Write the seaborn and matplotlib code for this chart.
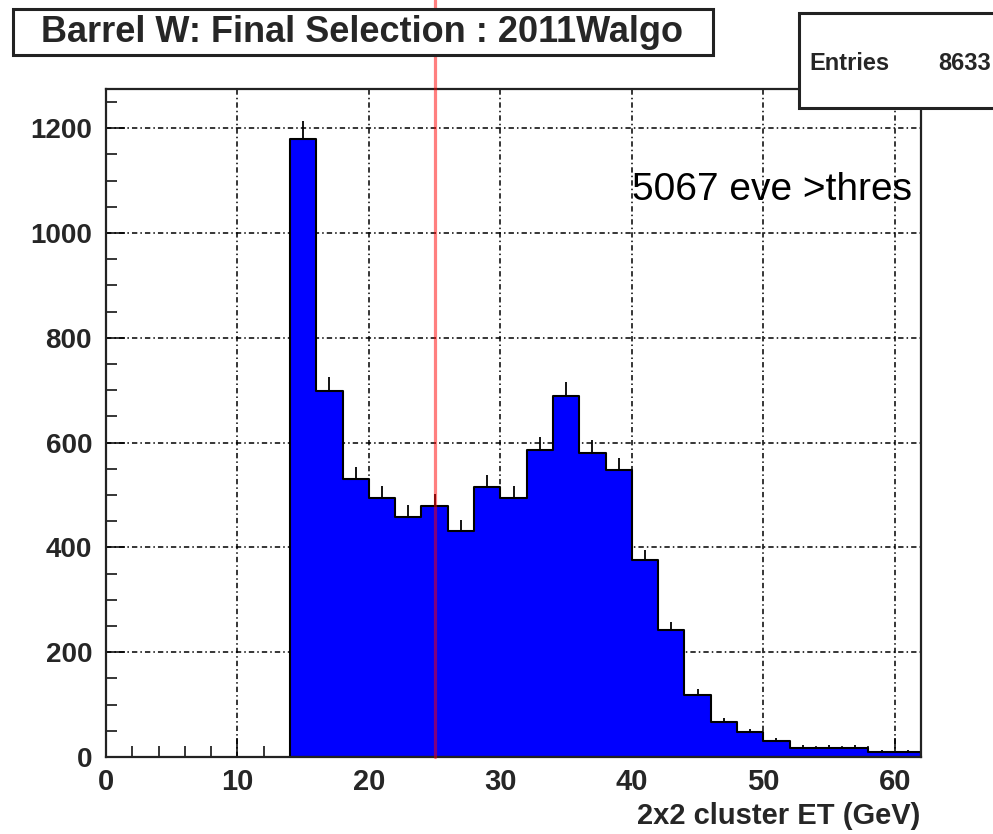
import numpy as np
import pandas as pd
import matplotlib
matplotlib.use("Agg")
import matplotlib.pyplot as plt
import seaborn as sns
from matplotlib.patches import Rectangle
from matplotlib.ticker import MultipleLocator

# Histogram of 2x2 cluster ET for the barrel W final selection (2 GeV bins)
bin_edges = [14, 16, 18, 20, 22, 24, 26, 28, 30, 32, 34, 36, 38, 40,
             42, 44, 46, 48, 50, 52, 54, 56, 58, 60, 62]
counts = [1180, 698, 530, 495, 459, 480, 431, 516, 495, 586, 689, 581,
          547, 376, 242, 118, 67, 47, 30, 18, 18, 18, 10, 10]
threshold_et = 25
entries = 8633
events_above = 5067
title_text = "Barrel W: Final Selection : 2011Walgo"
x_label = "2x2 cluster ET (GeV)"

sns.set_theme(style="white")
plt.rcParams["font.family"] = ["Liberation Sans", "DejaVu Sans"]
plt.rcParams["font.weight"] = "bold"

W, H = 993, 834
fig = plt.figure(figsize=(W / 100, H / 100), dpi=100)
fig.patch.set_facecolor("white")

ax_l, ax_r, ax_t, ax_b = 106, 921, 89, 757
ax = fig.add_axes([ax_l / W, 1 - ax_b / H, (ax_r - ax_l) / W, (ax_b - ax_t) / H])
ax.set_facecolor("white")

centers = [(a + b) / 2 for a, b in zip(bin_edges[:-1], bin_edges[1:])]
df = pd.DataFrame({"et": centers, "n": counts})

sns.histplot(data=df, x="et", weights="n", bins=bin_edges, element="step",
             fill=True, facecolor="#0000ff", edgecolor="black", linewidth=1.5,
             alpha=1, ax=ax, zorder=2)

# statistical error bars (upper half visible above the filled bars)
err = np.sqrt(np.array(counts, dtype=float))
ax.errorbar(centers, counts, yerr=[np.zeros_like(err), err], fmt="none",
            ecolor="black", elinewidth=1.3, capsize=0, zorder=3)

ax.set_xlim(0, 62)
ax.set_ylim(0, 1275)
ax.xaxis.set_major_locator(MultipleLocator(10))
ax.xaxis.set_minor_locator(MultipleLocator(2))
ax.yaxis.set_major_locator(MultipleLocator(200))
ax.yaxis.set_minor_locator(MultipleLocator(50))
ax.set_xlabel("")
ax.set_ylabel("")

# dotted grid behind the histogram
grid_style = dict(color="black", linestyle=(0, (3.5, 2, 1, 2)), linewidth=1.1, zorder=1)
for xv in ax.get_xticks():
    if 0 < xv < 62:
        ax.axvline(xv, **grid_style)
for yv in ax.get_yticks():
    if 0 < yv < 1275:
        ax.axhline(yv, **grid_style)

ax.tick_params(which="major", direction="in", length=14, width=1.1,
               color="black", top=False, right=False, bottom=True, left=True)
ax.tick_params(which="minor", direction="in", length=8, width=1.1,
               color="black", top=False, right=False, bottom=True, left=True)
ax.tick_params(axis="x", which="major", labelsize=21, pad=8)
ax.tick_params(axis="y", which="major", labelsize=20, pad=10)
for lbl in ax.get_xticklabels() + ax.get_yticklabels():
    lbl.set_fontweight("bold")

for s in ax.spines.values():
    s.set_color("#222222")
    s.set_linewidth(1.6)

# cut threshold line, running up to the top of the canvas
ax.axvline(threshold_et, ymin=0, ymax=ax_b / (ax_b - ax_t), color="red",
           alpha=0.5, linewidth=2.3, clip_on=False, zorder=4)

fig.text(632 / W, 1 - 200 / H, f"{events_above} eve >thres", ha="left",
         va="baseline", fontsize=28, fontweight="normal", color="black")

fig.text(920 / W, 1 - 816 / H, x_label, ha="right", va="center",
         fontsize=21, fontweight="bold")

# title box
fig.patches.append(Rectangle((13 / W, 1 - 55 / H), 700 / W, 46 / H,
                             transform=fig.transFigure, facecolor="white",
                             edgecolor="#222222", linewidth=2.2, zorder=5))
fig.text(362 / W, 1 - 32 / H, title_text, ha="center", va="center",
         fontsize=26, fontweight="bold", zorder=6)

# statistics box
fig.patches.append(Rectangle((799 / W, 1 - 108 / H), 210 / W, 95 / H,
                             transform=fig.transFigure, facecolor="white",
                             edgecolor="#222222", linewidth=2.2, zorder=5))
fig.text(809 / W, 1 - 70 / H, "Entries", ha="left", va="baseline",
         fontsize=17, fontweight="bold", zorder=6)
fig.text(991 / W, 1 - 70 / H, f"{entries}", ha="right", va="baseline",
         fontsize=17, fontweight="bold", zorder=6)

fig.savefig("out.png", dpi=100)
